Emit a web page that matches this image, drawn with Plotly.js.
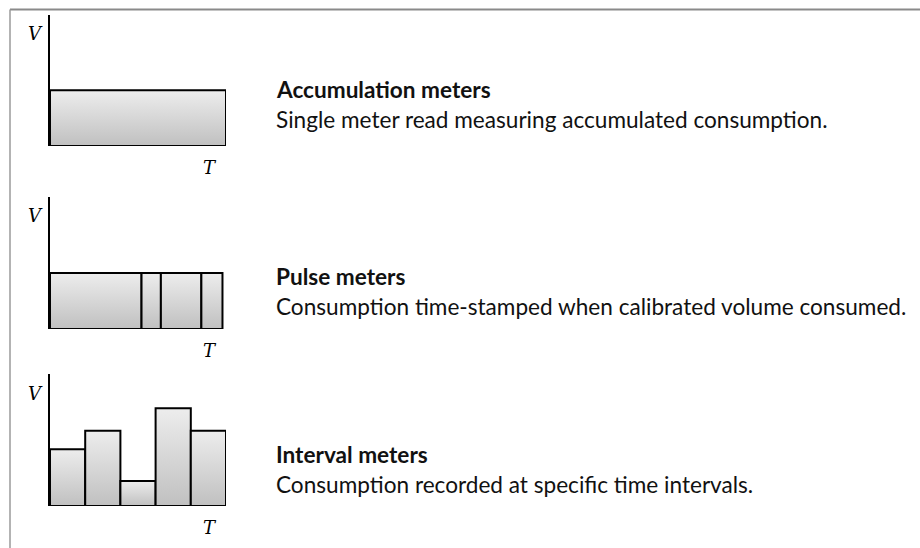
<!DOCTYPE html>
<html>
<head>
<meta charset="utf-8">
<script src="https://cdn.plot.ly/plotly-3.0.1.min.js"></script>
<style>html,body{margin:0;padding:0;background:#fff;}#chart{width:920px;height:548px;}</style>
</head>
<body>
<div id="chart"></div>
<script>
// ---- data ----
const accumEdges = [0, 10];
const accumValues = [4.25];
const pulseEdges = [0, 5.2, 6.3, 8.6, 9.8];
const pulseValues = [4.25, 4.25, 4.25, 4.25];
const intervalEdges = [0, 2, 4, 6, 8, 10];
const intervalValues = [4.3, 5.7, 1.9, 7.4, 5.7];
const meterTitles = ["Accumulation meters", "Pulse meters", "Interval meters"];
const meterDescriptions = [
  "Single meter read measuring accumulated consumption.",
  "Consumption time-stamped when calibrated volume consumed.",
  "Consumption recorded at specific time intervals."
];
const axisLabelV = "V";
const axisLabelT = "T";

// ---- layout helpers ----
const W = 920, H = 548;
const px = x => x / W;
const py = y => 1 - y / H;
const panels = [
  {edges: accumEdges, values: accumValues, top: 15, bottom: 146, titleY: 90, descY: 120},
  {edges: pulseEdges, values: pulseValues, top: 197, bottom: 329, titleY: 276, descY: 306},
  {edges: intervalEdges, values: intervalValues, top: 374, bottom: 506, titleY: 454, descY: 484}
];
const plotLeft = 50, plotRight = 226;

const traces = [];
const layout = {
  width: W, height: H,
  margin: {l: 0, r: 0, t: 0, b: 0},
  paper_bgcolor: '#ffffff', plot_bgcolor: 'rgba(0,0,0,0)',
  showlegend: false,
  font: {family: 'Lato, "Noto Sans", sans-serif', color: '#1a1a1a'},
  shapes: [],
  annotations: []
};

// frame lines (cropped figure border)
layout.shapes.push({type: 'line', xref: 'paper', yref: 'paper', x0: px(10), x1: 1, y0: py(9.5), y1: py(9.5), line: {color: '#8a8a8a', width: 2}, layer: 'below'});
layout.shapes.push({type: 'line', xref: 'paper', yref: 'paper', x0: px(10), x1: px(10), y0: py(9.5), y1: 0, line: {color: '#9a9a9a', width: 1.5}, layer: 'below'});

panels.forEach((p, i) => {
  const n = i === 0 ? '' : String(i + 1);
  const xa = 'x' + n, ya = 'y' + n;
  layout['xaxis' + n] = {
    domain: [px(plotLeft), px(plotRight)], range: [0, 10], anchor: ya,
    showline: false, showgrid: false, zeroline: false, showticklabels: false, ticks: '', fixedrange: true
  };
  layout['yaxis' + n] = {
    domain: [py(p.bottom), py(p.top)], range: [0, 10], anchor: xa,
    showline: true, linecolor: '#000', linewidth: 2, showgrid: false, zeroline: false,
    showticklabels: false, ticks: '', fixedrange: true
  };
  // ground hatch under bars
  layout.shapes.push({type: 'line', xref: xa, yref: ya,
    x0: p.edges[0], x1: p.edges[p.edges.length - 1], y0: -0.22, y1: -0.22,
    line: {color: '#8f8f8f', width: 3, dash: '2px,1px'}});
  // bars
  p.values.forEach((v, k) => {
    const l = p.edges[k], r = p.edges[k + 1];
    traces.push({
      type: 'scatter', mode: 'lines', xaxis: xa, yaxis: ya,
      x: [l, r, r, l, l], y: [0, 0, v, v, 0],
      fill: 'toself',
      fillgradient: {type: 'vertical', colorscale: [[0, '#c0c0c0'], [1, '#ededed']]},
      line: {color: '#000', width: 2},
      cliponaxis: false, hoverinfo: 'skip'
    });
  });
  // axis letters
  layout.annotations.push({xref: 'paper', yref: 'paper', x: px(35), y: py(p.top + 19), text: axisLabelV,
    showarrow: false, xanchor: 'center', yanchor: 'middle',
    font: {family: '"DejaVu Serif", serif', size: 18, color: '#000', style: 'italic'}});
  layout.annotations.push({xref: 'paper', yref: 'paper', x: px(210), y: py(p.bottom + 21), text: axisLabelT,
    showarrow: false, xanchor: 'center', yanchor: 'middle',
    font: {family: '"DejaVu Serif", serif', size: 18, color: '#000', style: 'italic'}});
  // texts
  layout.annotations.push({xref: 'paper', yref: 'paper', x: px(274), y: py(p.titleY), text: '<b>' + meterTitles[i] + '</b>',
    showarrow: false, xanchor: 'left', yanchor: 'middle', font: {size: 22.6, color: '#111'}});
  layout.annotations.push({xref: 'paper', yref: 'paper', x: px(274), y: py(p.descY), text: meterDescriptions[i],
    showarrow: false, xanchor: 'left', yanchor: 'middle', font: {size: 22.6, color: '#111'}});
});

Plotly.newPlot('chart', traces, layout, {displayModeBar: false, staticPlot: true});
</script>
</body>
</html>
